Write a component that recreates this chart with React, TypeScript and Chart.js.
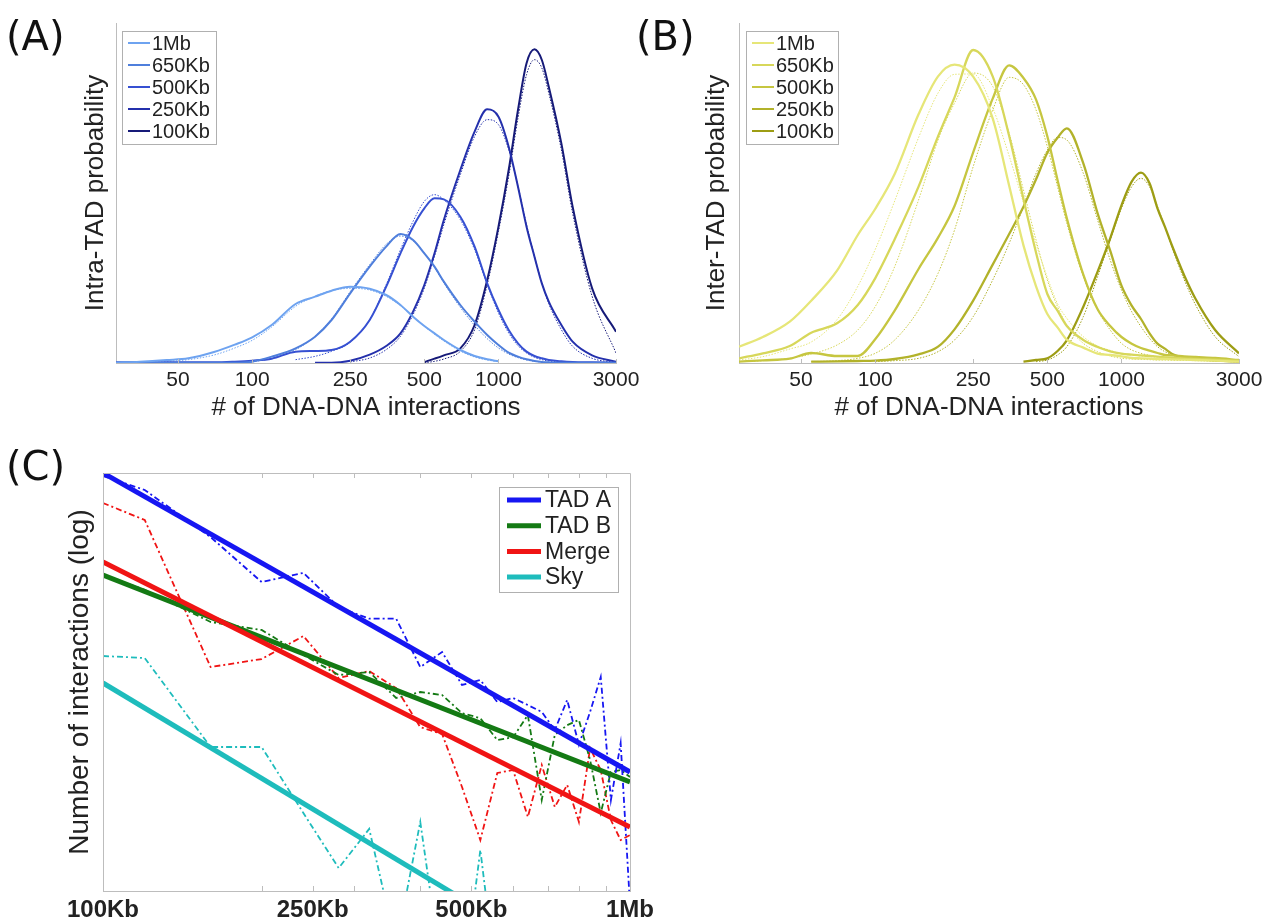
import React, { useEffect, useRef } from "react";
import { Chart, registerables } from "chart.js";
Chart.register(...registerables);

const N = null;

// ---------- Panels A & B : x grid (# of DNA-DNA interactions) ----------
const X_AB = [28, 35, 45, 55, 70, 85, 100, 120, 150, 180, 210, 250, 300, 350, 400, 450, 500, 550, 600, 700, 800, 900, 1000, 1100, 1200, 1300, 1400, 1500, 1600, 1800, 2000, 2400, 3000];
const AB_TICKS = [50, 100, 250, 500, 1000, 3000];
const AB_LABELS = ["1Mb", "650Kb", "500Kb", "250Kb", "100Kb"];

// Panel A (Intra-TAD) observed curves
const A_1MB = [0.001, 0.004, 0.009, 0.014, 0.033, 0.055, 0.077, 0.114, 0.177, 0.199, 0.217, 0.229, 0.223, 0.204, 0.174, 0.139, 0.111, 0.089, 0.069, 0.039, 0.021, 0.011, 0.005, N, N, N, N, N, N, N, N, N, N];
const A_650 = [0.001, 0.001, 0.001, 0.001, 0.001, 0.001, 0.004, 0.019, 0.044, 0.079, 0.129, 0.209, 0.289, 0.349, 0.387, 0.369, 0.329, 0.289, 0.244, 0.174, 0.124, 0.084, 0.054, 0.031, 0.019, 0.011, 0.006, 0.003, 0.002, 0.001, 0.001, 0.001, 0.001];
const A_500 = [0.002, 0.002, 0.002, 0.002, 0.002, 0.004, 0.007, 0.013, 0.034, 0.036, 0.039, 0.064, 0.129, 0.229, 0.329, 0.409, 0.464, 0.494, 0.491, 0.439, 0.349, 0.239, 0.159, 0.099, 0.059, 0.034, 0.021, 0.014, 0.009, 0.005, 0.003, 0.002, 0.001];
const A_250 = [N, N, N, N, N, N, N, N, N, 0.001, 0.001, 0.007, 0.025, 0.051, 0.089, 0.154, 0.234, 0.329, 0.429, 0.579, 0.694, 0.761, 0.739, 0.649, 0.529, 0.409, 0.319, 0.239, 0.184, 0.114, 0.064, 0.023, 0.004];
const A_100 = [N, N, N, N, N, N, N, N, N, N, N, N, N, N, N, N, 0.003, 0.013, 0.023, 0.044, 0.114, 0.249, 0.409, 0.579, 0.759, 0.899, 0.941, 0.909, 0.829, 0.659, 0.469, 0.224, 0.094];
// Panel A fitted (dotted) curves
const A_1MB_FIT = [0.001, 0.002, 0.005, 0.010, 0.024, 0.045, 0.068, 0.108, 0.170, 0.200, 0.217, 0.224, 0.219, 0.200, 0.172, 0.140, 0.110, 0.086, 0.066, 0.036, 0.018, 0.009, 0.004, N, N, N, N, N, N, N, N, N, N];
const A_650_FIT = [N, N, N, N, N, N, 0.003, 0.014, 0.040, 0.080, 0.132, 0.214, 0.295, 0.356, 0.381, 0.367, 0.330, 0.286, 0.240, 0.167, 0.113, 0.073, 0.045, 0.027, 0.016, 0.009, 0.005, 0.003, 0.002, 0.001, 0.001, 0.001, 0.001];
const A_500_FIT = [N, N, N, N, N, N, N, N, 0.010, 0.020, 0.035, 0.062, 0.130, 0.235, 0.340, 0.425, 0.485, 0.505, 0.490, 0.430, 0.340, 0.235, 0.150, 0.090, 0.052, 0.030, 0.017, 0.010, 0.006, 0.003, 0.002, 0.001, 0.001];
const A_250_FIT = [N, N, N, N, N, N, N, N, N, N, N, 0.003, 0.015, 0.040, 0.080, 0.145, 0.225, 0.320, 0.415, 0.565, 0.680, 0.730, 0.715, 0.640, 0.530, 0.415, 0.320, 0.240, 0.178, 0.100, 0.050, 0.014, 0.002];
const A_100_FIT = [N, N, N, N, N, N, N, N, N, N, N, N, N, N, N, N, 0.001, 0.005, 0.012, 0.035, 0.100, 0.235, 0.395, 0.560, 0.735, 0.865, 0.910, 0.885, 0.810, 0.640, 0.450, 0.200, 0.030];

// Panel B (Inter-TAD) observed curves
const B_1MB = [0.049, 0.078, 0.124, 0.187, 0.277, 0.384, 0.462, 0.567, 0.746, 0.860, 0.895, 0.859, 0.734, 0.532, 0.353, 0.230, 0.147, 0.107, 0.070, 0.046, 0.028, 0.024, 0.020, 0.015, 0.014, 0.013, 0.012, 0.012, 0.011, 0.010, 0.009, 0.007, 0.004];
const B_650 = [0.014, 0.029, 0.051, 0.091, 0.119, 0.174, 0.254, 0.371, 0.529, 0.680, 0.797, 0.939, 0.860, 0.681, 0.492, 0.331, 0.207, 0.157, 0.111, 0.069, 0.048, 0.035, 0.028, 0.025, 0.023, 0.021, 0.019, 0.017, 0.016, 0.014, 0.012, 0.010, 0.007];
const B_500 = [0.004, 0.008, 0.013, 0.030, 0.021, 0.021, 0.071, 0.157, 0.282, 0.376, 0.471, 0.632, 0.793, 0.893, 0.855, 0.790, 0.680, 0.549, 0.434, 0.265, 0.161, 0.111, 0.078, 0.058, 0.045, 0.037, 0.030, 0.024, 0.023, 0.020, 0.018, 0.015, 0.009];
const B_250 = [N, N, N, 0.004, 0.005, 0.006, 0.007, 0.012, 0.026, 0.049, 0.101, 0.187, 0.295, 0.387, 0.469, 0.551, 0.631, 0.676, 0.704, 0.599, 0.449, 0.337, 0.232, 0.172, 0.132, 0.089, 0.058, 0.043, 0.028, 0.016, 0.012, 0.008, 0.004];
const B_100 = [N, N, N, N, N, N, N, N, N, N, N, N, N, N, 0.004, 0.009, 0.014, 0.036, 0.068, 0.169, 0.274, 0.374, 0.473, 0.544, 0.571, 0.539, 0.464, 0.409, 0.354, 0.262, 0.192, 0.099, 0.029];
// Panel B fitted (dotted) curves
const B_1MB_FIT = [0.009, 0.019, 0.042, 0.063, 0.130, 0.230, 0.340, 0.486, 0.676, 0.810, 0.866, 0.867, 0.765, 0.621, 0.481, 0.357, 0.257, 0.178, 0.134, 0.079, 0.051, 0.038, 0.027, 0.024, 0.021, 0.019, 0.017, 0.015, 0.014, 0.012, 0.010, 0.007, 0.004];
const B_650_FIT = [0.004, 0.007, 0.014, 0.027, 0.054, 0.099, 0.169, 0.289, 0.489, 0.669, 0.780, 0.870, 0.830, 0.689, 0.519, 0.369, 0.249, 0.169, 0.114, 0.059, 0.034, 0.021, 0.014, 0.012, 0.011, 0.010, 0.009, 0.009, 0.008, 0.008, 0.007, 0.006, 0.004];
const B_500_FIT = [N, N, N, 0.004, 0.007, 0.014, 0.029, 0.069, 0.159, 0.269, 0.399, 0.589, 0.759, 0.857, 0.835, 0.759, 0.649, 0.529, 0.419, 0.259, 0.159, 0.099, 0.059, 0.039, 0.029, 0.023, 0.019, 0.017, 0.015, 0.013, 0.011, 0.009, 0.006];
const B_250_FIT = [N, N, N, N, N, N, 0.004, 0.007, 0.014, 0.034, 0.069, 0.139, 0.249, 0.359, 0.469, 0.569, 0.639, 0.677, 0.669, 0.569, 0.429, 0.309, 0.219, 0.154, 0.109, 0.074, 0.049, 0.034, 0.024, 0.014, 0.009, 0.006, 0.003];
const B_100_FIT = [N, N, N, N, N, N, N, N, N, N, N, N, N, N, N, 0.004, 0.009, 0.024, 0.049, 0.139, 0.259, 0.369, 0.464, 0.529, 0.554, 0.529, 0.469, 0.409, 0.349, 0.249, 0.174, 0.079, 0.019];

// ---------- Panel C : genomic distance (Kb) ----------
const C_X = [100, 120, 160, 200, 240, 280, 320, 360, 400, 440, 480, 520, 560, 600, 640, 680, 720, 760, 800, 840, 880, 920, 960, 1000];
const C_TICKS = [100, 250, 500, 1000];
const C_TICK_LABELS = ["100Kb", "250Kb", "500Kb", "1Mb"];
const C_MINOR = [200, 250, 300, 400, 500, 600, 700, 800, 900];
const C_LABELS = ["TAD A", "TAD B", "Merge", "Sky"];
const TADA_DATA = [952, 755, 347, 165, 192, 109, 90, 90, 40.5, 51.9, 30.1, 32.7, 22.7, 24.3, 21.6, 19.3, 14.3, 23.5, 11.2, 19.3, 34.4, 4.5, 11.5, 0.79];
const TADB_DATA = [185, 145, 85.3, 74.7, 49.4, 35.5, 37.3, 24.3, 26.8, 25.5, 18.9, 17.4, 12.1, 12.7, 18.3, 4.5, 13.2, 15.5, 16.9, 8.71, 3.63, 7.15, 7.39, 6.58];
const MERGE_DATA = [609, 460, 40.5, 46.2, 67.6, 33.8, 37.9, 28.6, 15.0, 13.4, 5.58, 2.32, 7.03, 7.39, 3.4, 8.02, 4.01, 5.77, 3.13, 10.6, 7.39, 3.23, 2.32, 2.52];
const SKY_DATA = [48.6, 47.0, 10.8, 10.8, 3.63, 1.46, 2.79, 0.4, 3.13, 0.25, 0.18, 1.97, 0.2, 0.12, 0.1, 0.1, 0.1, 0.1, 0.1, 0.1, 0.1, 0.1, 0.1, 0.1];
const C_FIT_X = [100, 1000];
const TADA_FIT = [1000, 7.15];
const TADB_FIT = [185, 6.06];
const MERGE_FIT = [230, 2.88];
const SKY_FIT = [31.1, 0.166];

// ---------- styles ----------
const FONT = '"Liberation Sans", Arial, Helvetica, sans-serif';
const TXT = "#222";
const AXIS = "#bdbdbd";
const A_COLORS = ["#6ea3f0", "#4f7fdc", "#3650d2", "#2430ac", "#161a78"];
const B_COLORS = ["#e6e678", "#d7d75a", "#c6c640", "#b2b22a", "#9d9d14"];
const C_COLORS = { a: "#1616f2", b: "#147a14", m: "#f01414", s: "#1ebcbc" };

function series(label: string, xs: number[], ys: (number | null)[], color: string, width: number, dash: number[] = [], curve = true) {
  return {
    label,
    data: xs.map((x, i) => ({ x, y: ys[i] })),
    borderColor: color,
    backgroundColor: color,
    borderWidth: width,
    borderDash: dash,
    pointRadius: 0,
    fill: false,
    spanGaps: false,
    tension: 0,
    cubicInterpolationMode: curve ? "monotone" : "default",
  };
}

function legendPlugin(cfg: any) {
  return {
    id: "boxLegend",
    afterDraw(chart: any) {
      const ctx = chart.ctx;
      ctx.save();
      ctx.setLineDash([]);
      ctx.fillStyle = "#ffffff";
      ctx.fillRect(cfg.x, cfg.y, cfg.w, cfg.h);
      ctx.strokeStyle = "#b0b0b0";
      ctx.lineWidth = 1;
      ctx.strokeRect(cfg.x + 0.5, cfg.y + 0.5, cfg.w, cfg.h);
      ctx.font = cfg.font;
      ctx.textBaseline = "middle";
      ctx.textAlign = "left";
      cfg.items.forEach((label: string, i: number) => {
        const ds = chart.data.datasets.find((d: any) => d.label === label);
        const yy = cfg.firstY + i * cfg.rowH;
        ctx.strokeStyle = ds ? ds.borderColor : "#000";
        ctx.lineWidth = cfg.lineWidth;
        ctx.beginPath();
        ctx.moveTo(cfg.lineX1, yy);
        ctx.lineTo(cfg.lineX2, yy);
        ctx.stroke();
        ctx.fillStyle = TXT;
        ctx.fillText(label, cfg.textX, yy + 1);
      });
      ctx.restore();
    },
  };
}

function decorPlugin(cfg: any) {
  return {
    id: "axisDecor",
    afterDatasetsDraw(chart: any) {
      const { ctx, chartArea: a, scales } = chart;
      ctx.save();
      ctx.setLineDash([]);
      ctx.strokeStyle = cfg.color;
      ctx.lineWidth = 1;
      ctx.beginPath();
      cfg.values.forEach((v: number) => {
        const px = Math.round(scales.x.getPixelForValue(v)) + 0.5;
        ctx.moveTo(px, a.bottom);
        ctx.lineTo(px, a.bottom - cfg.len);
        if (cfg.top) {
          ctx.moveTo(px, a.top);
          ctx.lineTo(px, a.top + cfg.len);
        }
      });
      if (cfg.frame) ctx.rect(Math.round(a.left) + 0.5, Math.round(a.top) + 0.5, Math.round(a.right - a.left), Math.round(a.bottom - a.top));
      ctx.stroke();
      ctx.restore();
    },
  };
}

function abConfig(isA: boolean): any {
  const solids = isA ? [A_1MB, A_650, A_500, A_250, A_100] : [B_1MB, B_650, B_500, B_250, B_100];
  const fits = isA ? [A_1MB_FIT, A_650_FIT, A_500_FIT, A_250_FIT, A_100_FIT] : [B_1MB_FIT, B_650_FIT, B_500_FIT, B_250_FIT, B_100_FIT];
  const colors = isA ? A_COLORS : B_COLORS;
  const datasets: any[] = [];
  solids.forEach((s, i) => datasets.push(series(AB_LABELS[i], X_AB, s, colors[i], isA ? 2 : 2.3)));
  fits.forEach((s, i) => datasets.push(series(AB_LABELS[i] + " fit", X_AB, s, colors[i], 1, [1.5, 1.5])));
  const yWidth = isA ? 116 : 109;
  const lx = isA ? 122 : 116;
  return {
    type: "line",
    data: { datasets },
    options: {
      animation: false,
      responsive: false,
      devicePixelRatio: 1,
      events: [],
      layout: { padding: { left: 0, top: 23, right: isA ? 24 : 26, bottom: 0 } },
      plugins: { legend: { display: false }, tooltip: { enabled: false } },
      scales: {
        x: {
          type: "logarithmic",
          min: 28,
          max: 3000,
          afterBuildTicks: (s: any) => {
            s.ticks = AB_TICKS.map((v) => ({ value: v }));
          },
          afterFit: (s: any) => {
            s.height = 61;
            s.paddingLeft = 0;
            s.paddingRight = 0;
          },
          ticks: {
            autoSkip: false,
            maxRotation: 0,
            padding: 5,
            color: TXT,
            font: { family: FONT, size: 21 },
            callback: (v: any) => String(v),
          },
          grid: { display: false, drawTicks: false },
          border: { display: true, color: AXIS, width: 1 },
          title: { display: true, text: "# of DNA-DNA interactions", color: TXT, font: { family: FONT, size: 26 }, padding: { top: 0, bottom: 1 } },
        },
        y: {
          type: "linear",
          min: 0,
          max: 1.02,
          afterFit: (s: any) => {
            s.width = yWidth;
          },
          ticks: { display: false },
          grid: { display: false, drawTicks: false },
          border: { display: true, color: AXIS, width: 1 },
          title: {
            display: true,
            text: isA ? "Intra-TAD probability" : "Inter-TAD probability",
            color: TXT,
            font: { family: FONT, size: 26 },
            padding: { top: isA ? 80 : 71, bottom: 0 },
          },
        },
      },
    },
    plugins: [
      decorPlugin({ values: AB_TICKS, len: 4, color: AXIS, top: false, frame: false }),
      legendPlugin({
        items: AB_LABELS,
        x: lx,
        y: 31,
        w: isA ? 94 : 92,
        h: 113,
        firstY: 43,
        rowH: 22,
        lineX1: lx + 6,
        lineX2: lx + 28,
        textX: lx + 30,
        lineWidth: 2,
        font: `20px ${FONT}`,
      }),
    ],
  };
}

function cConfig(): any {
  const dash = [6, 3, 2, 3];
  const datasets = [
    series("TAD A", C_FIT_X, TADA_FIT, C_COLORS.a, 5, [], false),
    series("Merge", C_FIT_X, MERGE_FIT, C_COLORS.m, 5, [], false),
    series("TAD B", C_FIT_X, TADB_FIT, C_COLORS.b, 5, [], false),
    series("Sky", C_FIT_X, SKY_FIT, C_COLORS.s, 5, [], false),
    series("TAD A data", C_X, TADA_DATA, C_COLORS.a, 1.8, dash, false),
    series("TAD B data", C_X, TADB_DATA, C_COLORS.b, 1.8, dash, false),
    series("Merge data", C_X, MERGE_DATA, C_COLORS.m, 1.8, dash, false),
    series("Sky data", C_X, SKY_DATA, C_COLORS.s, 1.8, dash, false),
  ];
  return {
    type: "line",
    data: { datasets },
    options: {
      animation: false,
      responsive: false,
      devicePixelRatio: 1,
      events: [],
      layout: { padding: { left: 0, top: 53, right: 30, bottom: 0 } },
      plugins: { legend: { display: false }, tooltip: { enabled: false } },
      scales: {
        x: {
          type: "logarithmic",
          min: 100,
          max: 1000,
          afterBuildTicks: (s: any) => {
            s.ticks = C_TICKS.map((v) => ({ value: v }));
          },
          afterFit: (s: any) => {
            s.height = 30;
            s.paddingLeft = 0;
            s.paddingRight = 0;
          },
          ticks: {
            autoSkip: false,
            maxRotation: 0,
            padding: 5,
            color: TXT,
            font: { family: FONT, size: 24, weight: "bold" },
            callback: (_v: any, i: number) => C_TICK_LABELS[i],
          },
          grid: { display: false, drawTicks: false },
          border: { display: true, color: AXIS, width: 1 },
        },
        y: {
          type: "logarithmic",
          min: 1,
          max: 1000,
          afterFit: (s: any) => {
            s.width = 103;
          },
          ticks: { display: false },
          grid: { display: false, drawTicks: false },
          border: { display: true, color: AXIS, width: 1 },
          title: {
            display: true,
            text: "Number of interactions (log)",
            color: TXT,
            font: { family: FONT, size: 28 },
            padding: { top: 63, bottom: 0 },
          },
        },
      },
    },
    plugins: [
      decorPlugin({ values: C_MINOR, len: 5, color: AXIS, top: true, frame: true }),
      legendPlugin({
        items: C_LABELS,
        x: 499,
        y: 67,
        w: 119,
        h: 105,
        firstY: 80,
        rowH: 25.7,
        lineX1: 507,
        lineX2: 541,
        textX: 545,
        lineWidth: 5,
        font: `23px ${FONT}`,
      }),
    ],
  };
}

const panelLabel: React.CSSProperties = {
  position: "absolute",
  font: `40px "DejaVu Sans", ${FONT}`,
  lineHeight: "40px",
  color: "#111",
  whiteSpace: "nowrap",
};

export default function App() {
  const refA = useRef<HTMLCanvasElement>(null);
  const refB = useRef<HTMLCanvasElement>(null);
  const refC = useRef<HTMLCanvasElement>(null);

  useEffect(() => {
    const charts = [
      new Chart(refA.current as HTMLCanvasElement, abConfig(true)),
      new Chart(refB.current as HTMLCanvasElement, abConfig(false)),
      new Chart(refC.current as HTMLCanvasElement, cConfig()),
    ];
    return () => charts.forEach((c) => c.destroy());
  }, []);

  return (
    <div style={{ position: "absolute", left: 0, top: 0, width: 1265, height: 921, background: "#fff", overflow: "hidden" }}>
      <canvas ref={refA} width={640} height={424} style={{ position: "absolute", left: 0, top: 0 }} />
      <canvas ref={refB} width={635} height={424} style={{ position: "absolute", left: 630, top: 0 }} />
      <canvas ref={refC} width={660} height={501} style={{ position: "absolute", left: 0, top: 420 }} />
      <div style={{ ...panelLabel, left: 6, top: 16 }}>(A)</div>
      <div style={{ ...panelLabel, left: 636, top: 16 }}>(B)</div>
      <div style={{ ...panelLabel, left: 6, top: 446 }}>(C)</div>
    </div>
  );
}
